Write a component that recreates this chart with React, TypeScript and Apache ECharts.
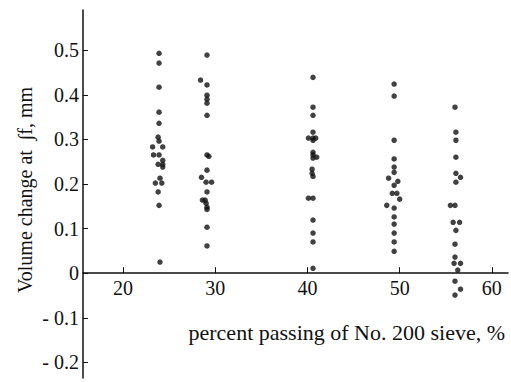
import React, { useEffect, useRef } from "react";
import * as echarts from "echarts";

const xTicks = [20, 30, 40, 50, 60];
const yTicks = [-0.2, -0.1, 0, 0.1, 0.2, 0.3, 0.4, 0.5];

// percent passing No. 200 sieve (%) for each point
const passA = [23.9, 23.9, 23.9, 23.9, 23.9, 23.8, 23.9, 23.2, 24.3, 23.3, 23.9, 24.3, 23.8, 24.3, 24.3, 24.0, 23.5, 24.2, 23.8, 23.9, 24.0];
const volA = [0.493, 0.471, 0.417, 0.361, 0.336, 0.305, 0.296, 0.283, 0.283, 0.265, 0.265, 0.253, 0.244, 0.244, 0.238, 0.213, 0.202, 0.202, 0.182, 0.152, 0.025];

const passB = [29.1, 28.4, 29.1, 29.1, 29.1, 29.1, 29.1, 29.1, 29.3, 29.1, 28.5, 29.0, 29.6, 29.1, 28.6, 28.9, 29.0, 29.1, 29.1, 29.1, 29.1];
const volB = [0.489, 0.433, 0.422, 0.399, 0.39, 0.381, 0.354, 0.265, 0.262, 0.231, 0.215, 0.204, 0.204, 0.182, 0.164, 0.164, 0.157, 0.148, 0.143, 0.103, 0.061];

const passC = [40.6, 40.6, 40.6, 40.6, 40.1, 40.6, 40.9, 40.6, 40.6, 40.6, 41.0, 40.6, 40.5, 40.5, 40.6, 40.1, 40.6, 40.6, 40.6, 40.6, 40.6];
const volC = [0.439, 0.372, 0.354, 0.316, 0.303, 0.303, 0.303, 0.298, 0.271, 0.265, 0.26, 0.258, 0.233, 0.224, 0.217, 0.168, 0.168, 0.119, 0.09, 0.07, 0.011];

const passD = [49.4, 49.4, 49.4, 49.4, 49.4, 49.4, 48.8, 49.8, 49.4, 49.2, 49.7, 50.0, 48.6, 49.4, 49.4, 49.4, 49.4, 49.4, 49.4];
const volD = [0.424, 0.397, 0.298, 0.256, 0.238, 0.226, 0.213, 0.206, 0.197, 0.179, 0.179, 0.166, 0.152, 0.146, 0.126, 0.11, 0.09, 0.07, 0.049];

const passE = [56.0, 56.1, 56.1, 56.1, 56.1, 56.6, 56.1, 55.5, 56.0, 55.8, 56.5, 56.1, 56.0, 56.0, 55.9, 56.6, 56.3, 56.0, 56.6, 56.0];
const volE = [0.372, 0.316, 0.298, 0.26, 0.224, 0.215, 0.204, 0.152, 0.152, 0.114, 0.114, 0.096, 0.065, 0.036, 0.022, 0.022, 0.007, -0.018, -0.036, -0.049];

const groups = [
  [passA, volA],
  [passB, volB],
  [passC, volC],
  [passD, volD],
  [passE, volE],
];

export default function App() {
  const ref = useRef<HTMLDivElement>(null);
  useEffect(() => {
    if (!ref.current) return;
    const chart = echarts.init(ref.current, null, { renderer: "svg" });
    const font = "'Liberation Serif', 'DejaVu Serif', serif";
    const data: number[][] = [];
    groups.forEach(([xs, ys]) => xs.forEach((x, i) => data.push([x, ys[i]])));
    const yMin = -0.235;
    const yMax = 0.59;
    const top = 10;
    const bottom = 4;
    const plotH = 382 - top - bottom;
    const zeroOffset = (plotH * (0 - yMin)) / (yMax - yMin);
    chart.setOption({
      animation: false,
      backgroundColor: "#fff",
      textStyle: { fontFamily: font },
      grid: { left: 83, right: 3, top, bottom },
      xAxis: {
        type: "value",
        min: 15.65,
        max: 61.75,
        position: "bottom",
        offset: -zeroOffset,
        splitLine: { show: false },
        axisLine: { onZero: false, lineStyle: { color: "#111", width: 1.5 } },
        axisTick: { inside: true, length: 6, customValues: xTicks, lineStyle: { color: "#111" } },
        axisLabel: {
          customValues: xTicks,
          color: "#111",
          fontFamily: font,
          fontSize: 20,
          margin: 5,
        },
      },
      yAxis: {
        type: "value",
        min: yMin,
        max: yMax,
        splitLine: { show: false },
        axisLine: { lineStyle: { color: "#111", width: 1.5 } },
        axisTick: { inside: true, length: 5, customValues: yTicks, lineStyle: { color: "#111" } },
        axisLabel: {
          customValues: yTicks,
          color: "#111",
          fontFamily: font,
          fontSize: 20,
          margin: 4,
          formatter: (v: number) => {
            const r = Math.round(v * 10) / 10;
            if (r === 0) return "0";
            if (r < 0) return "- " + Math.abs(r).toFixed(1);
            return r.toFixed(1);
          },
        },
      },
      graphic: [
        {
          type: "text",
          x: 505,
          y: 332,
          style: {
            text: "percent passing of No. 200 sieve, %",
            fill: "#111",
            font: "22px " + font,
            align: "right",
            verticalAlign: "middle",
          },
        },
        {
          type: "text",
          x: 25,
          y: 190,
          rotation: Math.PI / 2,
          style: {
            text: "Volume change at  ∫f, mm",
            fill: "#111",
            font: "20px " + font,
            align: "center",
            verticalAlign: "middle",
          },
        },
      ],
      series: [
        {
          type: "scatter",
          data,
          symbol: "circle",
          symbolSize: 5.5,
          itemStyle: { color: "#111" },
        },
      ],
    });
    return () => chart.dispose();
  }, []);
  return (
    <div
      ref={ref}
      style={{ position: "absolute", left: 0, top: 0, width: 511, height: 382 }}
    />
  );
}
